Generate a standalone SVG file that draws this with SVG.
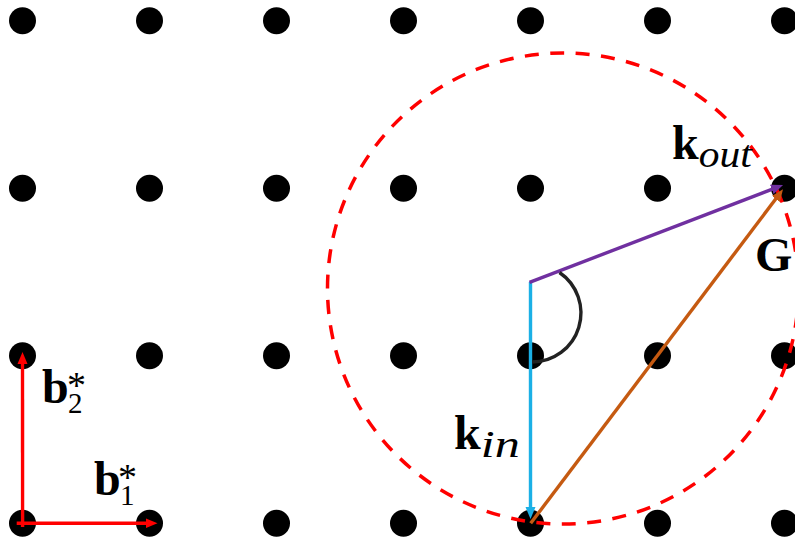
<svg xmlns="http://www.w3.org/2000/svg" width="795" height="542" viewBox="0 0 795 542">
<style>
.dot{fill:#000}
.vec{fill:none;stroke-width:3.4}
.lbl{font-family:"Liberation Serif","Times New Roman",serif;fill:#000}
.b{font-weight:bold}
.i{font-style:italic}
</style>
<defs>
<marker id="ah-red" markerUnits="userSpaceOnUse" markerWidth="14" markerHeight="12" viewBox="0 -6 14 12" refX="2" refY="0" orient="auto"><path d="M0,-5 L12,0 L0,5 z" fill="#FF0000"/></marker>
<marker id="ah-cyan" markerUnits="userSpaceOnUse" markerWidth="14" markerHeight="12" viewBox="0 -6 14 12" refX="2" refY="0" orient="auto"><path d="M0,-5 L12,0 L0,5 z" fill="#1BB0E6"/></marker>
<marker id="ah-purple" markerUnits="userSpaceOnUse" markerWidth="14" markerHeight="12" viewBox="0 -6 14 12" refX="2" refY="0" orient="auto"><path d="M0,-5 L12,0 L0,5 z" fill="#7030A0"/></marker>
<marker id="ah-orange" markerUnits="userSpaceOnUse" markerWidth="14" markerHeight="12" viewBox="0 -6 14 12" refX="2" refY="0" orient="auto"><path d="M0,-5 L12,0 L0,5 z" fill="#C55A11"/></marker>
</defs>
<rect width="795" height="542" fill="#fff"/>
<g id="lattice">
<circle class="dot" cx="22.5" cy="20.8" r="13.5"/><circle class="dot" cx="149.5" cy="20.8" r="13.5"/><circle class="dot" cx="276.5" cy="20.8" r="13.5"/><circle class="dot" cx="403.5" cy="20.8" r="13.5"/><circle class="dot" cx="530.5" cy="20.8" r="13.5"/><circle class="dot" cx="657.5" cy="20.8" r="13.5"/><circle class="dot" cx="784.5" cy="20.8" r="13.5"/>
<circle class="dot" cx="22.5" cy="188.3" r="13.5"/><circle class="dot" cx="149.5" cy="188.3" r="13.5"/><circle class="dot" cx="276.5" cy="188.3" r="13.5"/><circle class="dot" cx="403.5" cy="188.3" r="13.5"/><circle class="dot" cx="530.5" cy="188.3" r="13.5"/><circle class="dot" cx="657.5" cy="188.3" r="13.5"/><circle class="dot" cx="784.5" cy="188.3" r="13.5"/>
<circle class="dot" cx="22.5" cy="355.8" r="13.5"/><circle class="dot" cx="149.5" cy="355.8" r="13.5"/><circle class="dot" cx="276.5" cy="355.8" r="13.5"/><circle class="dot" cx="403.5" cy="355.8" r="13.5"/><circle class="dot" cx="530.5" cy="355.8" r="13.5"/><circle class="dot" cx="657.5" cy="355.8" r="13.5"/><circle class="dot" cx="784.5" cy="355.8" r="13.5"/>
<circle class="dot" cx="22.5" cy="523.3" r="13.5"/><circle class="dot" cx="149.5" cy="523.3" r="13.5"/><circle class="dot" cx="276.5" cy="523.3" r="13.5"/><circle class="dot" cx="403.5" cy="523.3" r="13.5"/><circle class="dot" cx="530.5" cy="523.3" r="13.5"/><circle class="dot" cx="657.5" cy="523.3" r="13.5"/><circle class="dot" cx="784.5" cy="523.3" r="13.5"/>
</g>
<g id="ewald-sphere">
<circle cx="563" cy="288.5" r="235.5" fill="none" stroke="#FF0000" stroke-width="3.5" stroke-dasharray="14 11.5"/>
</g>
<g id="connectors">
<line class="vec" x1="22.6" y1="527" x2="22.5" y2="362" stroke="#FF0000" marker-end="url(#ah-red)"/>
<line class="vec" x1="16.7" y1="523.3" x2="147.5" y2="523.3" stroke="#FF0000" marker-end="url(#ah-red)"/>
<line class="vec" x1="530.5" y1="282" x2="530.5" y2="509" stroke="#1BB0E6" marker-end="url(#ah-cyan)"/>
<line class="vec" x1="529.5" y1="282.4" x2="773.7" y2="188.6" stroke="#7030A0" marker-end="url(#ah-purple)"/>
<line class="vec" x1="530.7" y1="523.3" x2="777" y2="197.3" stroke="#C55A11" marker-end="url(#ah-orange)"/>
<path id="angle-arc" d="M559.5,272.5 A49,49 0 0 1 532,362" fill="none" stroke="#222" stroke-width="3.4"/>
</g>
<g id="labels">
<text class="lbl" x="672" y="159" font-size="48"><tspan class="b">k</tspan><tspan class="i" font-size="38" dy="7.5" textLength="53" lengthAdjust="spacingAndGlyphs">out</tspan></text>
<text class="lbl" x="454" y="449" font-size="48"><tspan class="b">k</tspan><tspan class="i" font-size="38" dy="7.5" textLength="39" lengthAdjust="spacingAndGlyphs">in</tspan></text>
<text class="lbl b" x="755" y="271" font-size="48">G</text>
<text class="lbl" x="42" y="403" font-size="48"><tspan class="b">b</tspan><tspan font-size="38" x="67" dy="-5">*</tspan><tspan font-size="29" x="68" y="413">2</tspan></text>
<text class="lbl" x="94" y="495" font-size="48"><tspan class="b">b</tspan><tspan font-size="38" x="118" dy="-5">*</tspan><tspan font-size="29" x="120" y="505">1</tspan></text>
</g>
</svg>
